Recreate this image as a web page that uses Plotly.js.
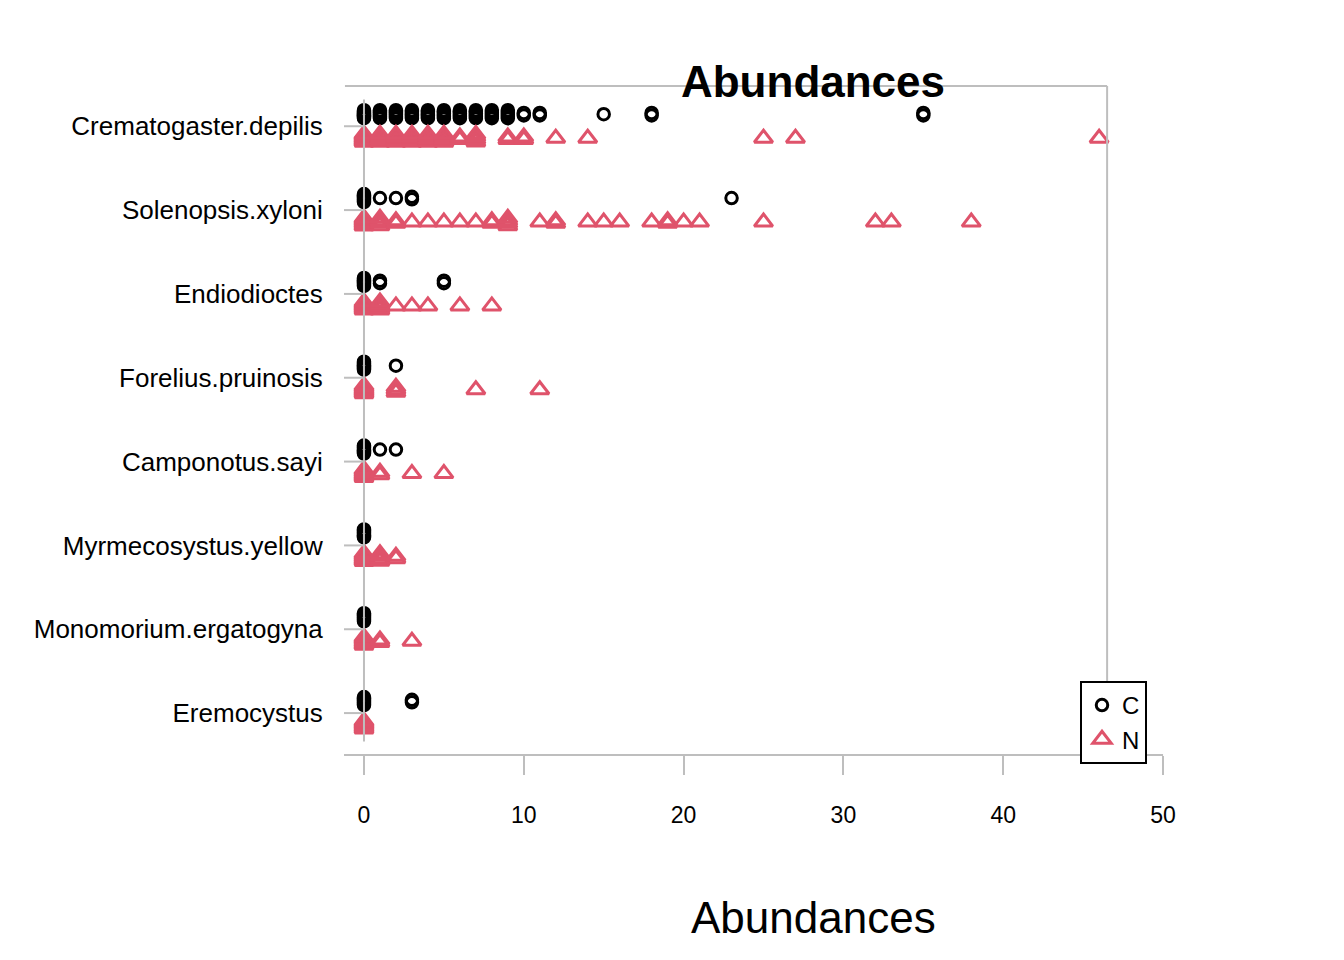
<!DOCTYPE html>
<html>
<head>
<meta charset="utf-8">
<script src="https://cdn.plot.ly/plotly-3.0.1.min.js"></script>
<style>html,body{margin:0;padding:0;background:#fff;}#chart{width:1344px;height:960px;}</style>
</head>
<body>
<div id="chart"></div>
<script>
// Species, top to bottom as in the chart
const species = ['Crematogaster.depilis','Solenopsis.xyloni','Endiodioctes','Forelius.pruinosis',
                 'Camponotus.sayi','Myrmecosystus.yellow','Monomorium.ergatogyna','Eremocystus'];
const groups = ['C','N'];
// Treatment C: distinct abundance values per species and how many samples share each value
const cValues = [
  [0,1,2,3,4,5,6,7,8,9,10,11,15,18,35],
  [0,1,2,3,23],
  [0,1,5],
  [0,2],
  [0,1,2],
  [0],
  [0],
  [0,3]
];
const cCounts = [
  [10,8,8,7,7,6,6,6,5,5,2,2,1,2,2],
  [8,1,1,2,1],
  [8,2,2],
  [8,1],
  [8,1,1],
  [8],
  [8],
  [8,2]
];
// Treatment N
const nValues = [
  [0,1,2,3,4,5,6,7,9,10,12,14,25,27,46],
  [0,1,2,3,4,5,6,7,8,9,11,12,14,15,16,18,19,20,21,25,32,33,38],
  [0,1,2,3,4,6,8],
  [0,2,7,11],
  [0,1,3,5],
  [0,1,2],
  [0,1,3],
  [0]
];
const nCounts = [
  [10,8,7,7,6,6,2,4,2,2,1,1,1,1,1],
  [8,4,2,1,1,1,1,1,2,4,1,2,1,1,1,1,2,1,1,1,1,1,1],
  [8,5,1,1,1,1,1],
  [8,3,1,1],
  [8,2,1,1],
  [8,4,2],
  [8,2,1],
  [8]
];
const xTicks = [0,10,20,30,40,50];

// ---- layout constants (pixels / styling) ----
const W = 1344, H = 960;
const mL = 344, mR = 172, mT = 86, mB = 205;
const xRange = [-1.25, 50.56];
const yRange = [-0.5, 7.48];
const pxPerY = (H - mT - mB) / (yRange[1] - yRange[0]);
const groupOffset = 12 / pxPerY;           // C above, N below category centre
const GRAY = '#BEBEBE';
const FONT = 'Liberation Sans, Arial, sans-serif';

function expand(values, counts, sign) {
  const xs = [], ys = [];
  values.forEach((vals, i) => {
    const yc = (species.length - 1 - i) + sign * groupOffset;
    vals.forEach((v, k) => {
      const n = counts[i][k];
      const spread = Math.min(8, 2.5 * (n - 1)); // small vertical jitter band (px)
      for (let j = 0; j < n; j++) {
        const off = n === 1 ? 0 : (-spread / 2 + spread * j / (n - 1));
        xs.push(v);
        ys.push(yc + off / pxPerY);
      }
    });
  });
  return {xs, ys};
}

const c = expand(cValues, cCounts, +1);
const n = expand(nValues, nCounts, -1);

const traces = [
  {type:'scatter', mode:'markers', name:groups[0], x:c.xs, y:c.ys, cliponaxis:false,
   marker:{symbol:'circle-open', size:11.5, color:'#000000', line:{width:3, color:'#000000'}}},
  {type:'scatter', mode:'markers', name:groups[1], x:n.xs, y:n.ys, cliponaxis:false,
   marker:{symbol:'triangle-up-open', size:16, color:'#DF536B', line:{width:3, color:'#DF536B'}}}
];

const boxRight = 46.5, boxLeft = -1.19;
const shapes = [
  // top and right frame
  {type:'line', xref:'x', yref:'paper', x0:boxLeft, x1:boxRight, y0:1, y1:1, line:{color:GRAY, width:2}},
  {type:'line', xref:'x', yref:'paper', x0:boxRight, x1:boxRight, y0:0, y1:1, line:{color:GRAY, width:2}},
  // bottom axis line
  {type:'line', xref:'x', yref:'paper', x0:-1.25, x1:50, y0:0, y1:0, line:{color:GRAY, width:2}},
  // vertical line at zero
  {type:'line', xref:'x', yref:'paper', x0:0, x1:0, y0:0.02, y1:0.98, line:{color:GRAY, width:2}}
];
species.forEach((s, i) => {
  const y = species.length - 1 - i;
  shapes.push({type:'line', xref:'x', yref:'y', x0:-1.25, x1:0, y0:y, y1:y, line:{color:GRAY, width:2}});
});

const layout = {
  width: W, height: H,
  margin: {l:mL, r:mR, t:mT, b:mB, pad:0, autoexpand:false},
  paper_bgcolor:'#ffffff', plot_bgcolor:'#ffffff',
  font: {family: FONT, color:'#000000'},
  title: {text:'<b>Abundances</b>', xref:'container', yref:'container', x:813/W, xanchor:'center',
          y:1 - 82/H, yanchor:'middle', font:{size:44, family:FONT, color:'#000000'}},
  showlegend: true,
  legend: {xref:'container', yref:'container', x:1080/W, xanchor:'left', y:1 - 681/H, yanchor:'top',
           bordercolor:'#000000', borderwidth:2, bgcolor:'#ffffff', font:{size:24, family:FONT},
           itemwidth:30},
  xaxis: {range:xRange, tickvals:xTicks, ticktext:xTicks.map(String), ticks:'outside', ticklen:19,
          tickwidth:2, tickcolor:GRAY, showline:false, showgrid:false, zeroline:false,
          tickfont:{size:23, family:FONT}, ticklabelstandoff:20, automargin:false},
  yaxis: {range:yRange, tickvals:species.map((s,i)=>species.length-1-i), ticktext:species,
          ticks:'outside', ticklen:15, tickcolor:'rgba(0,0,0,0)', showline:false, showgrid:false,
          zeroline:false, tickfont:{size:26, family:FONT}, automargin:false},
  annotations: [
    {text:'Abundances', xref:'paper', yref:'paper', x:(813 - mL)/(W - mL - mR), y:-(918 - (H - mB))/(H - mT - mB),
     xanchor:'center', yanchor:'middle', showarrow:false, font:{size:44, family:FONT, color:'#000000'}}
  ],
  shapes: shapes
};

Plotly.newPlot('chart', traces, layout, {displayModeBar:false, staticPlot:true});
</script>
</body>
</html>
